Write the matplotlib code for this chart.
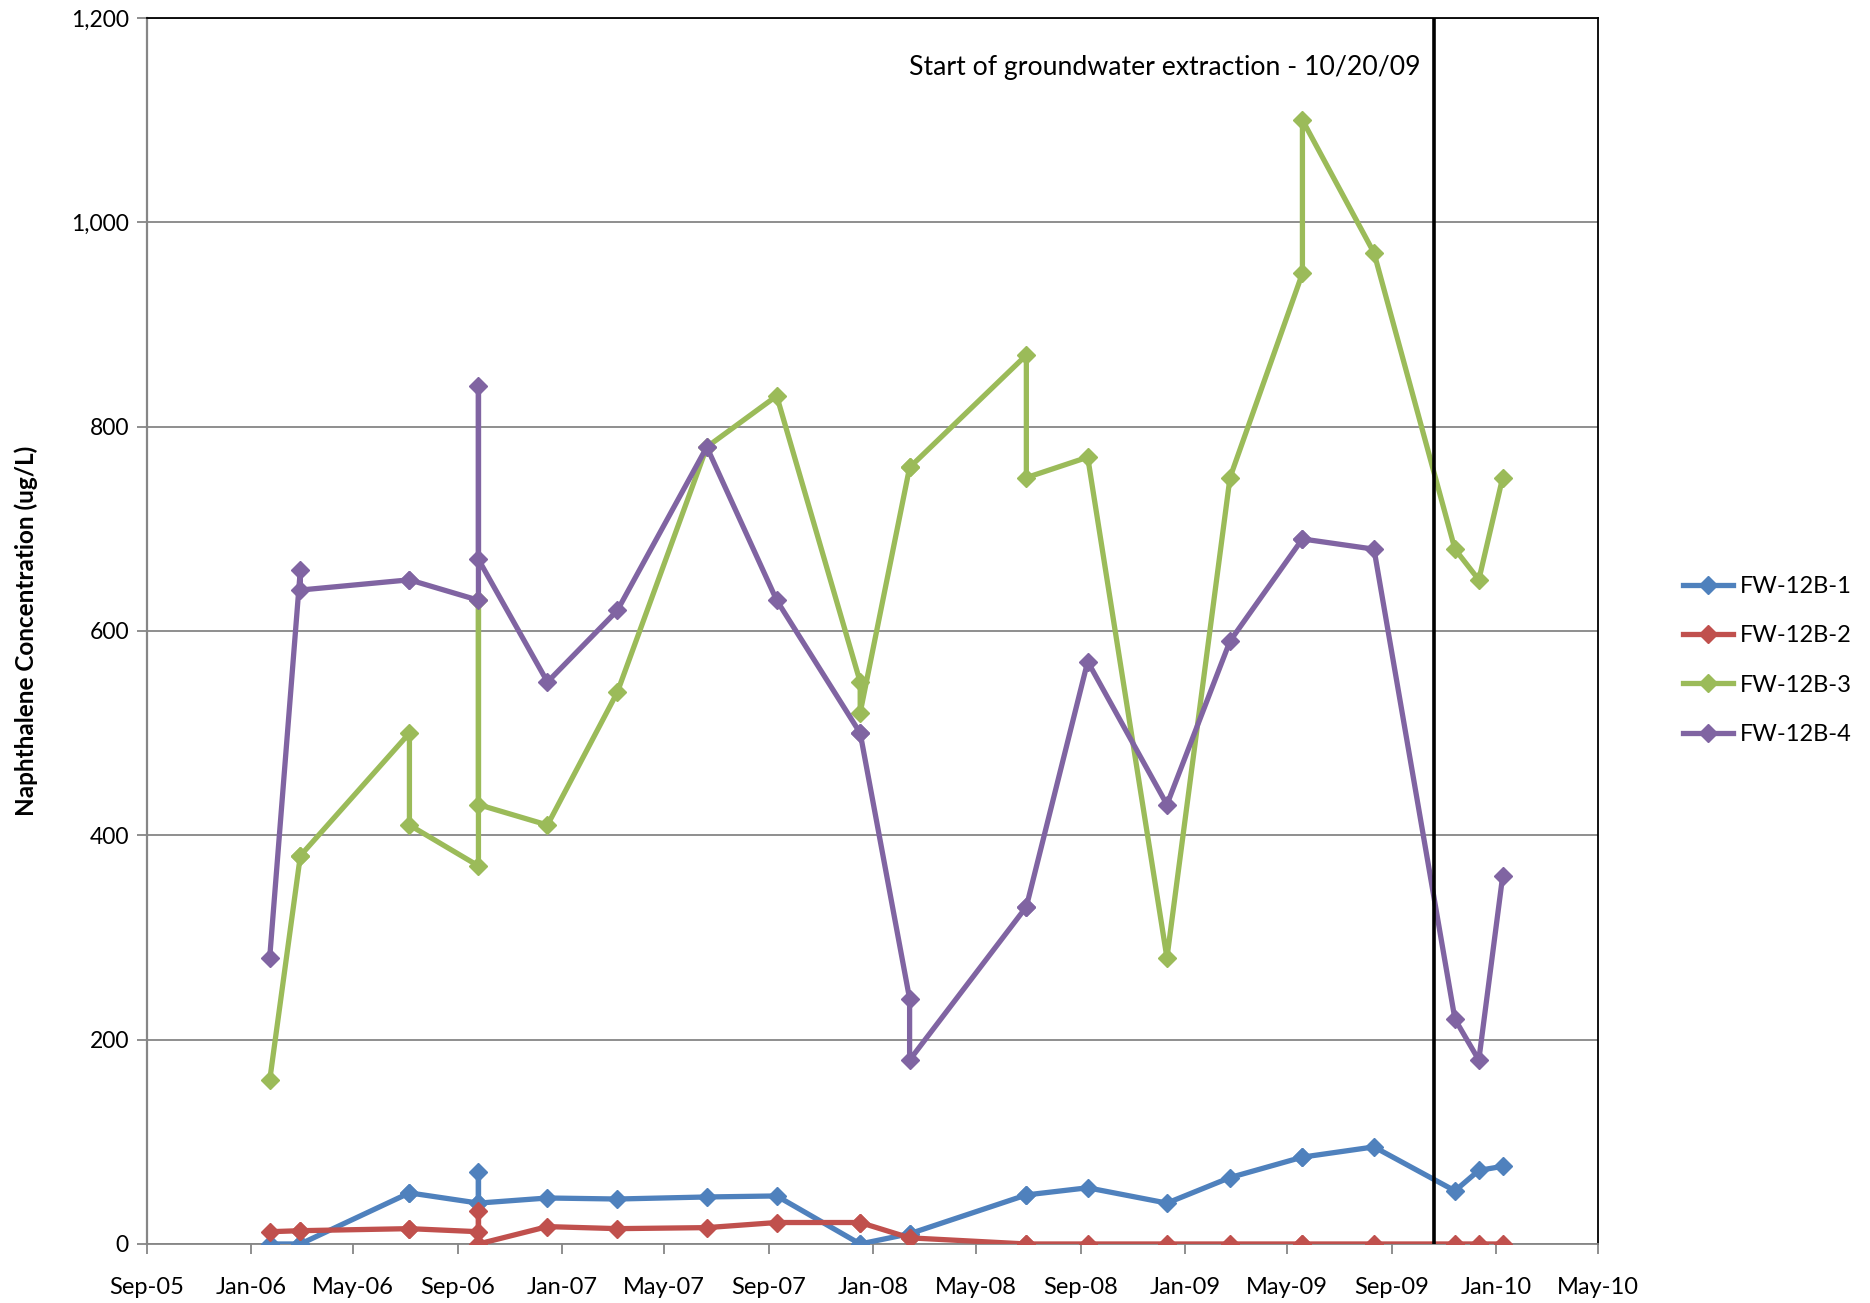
import matplotlib
matplotlib.use('Agg')
import matplotlib.pyplot as plt
import matplotlib.dates as mdates
import numpy as np
import datetime as dt

plt.rcParams['font.family'] = ['Lato', 'DejaVu Sans']

# Sampling dates (repeat dates = several samples on the same day)
dates = ['2006-01-23', '2006-02-28', '2006-02-28', '2006-07-06', '2006-07-06',
         '2006-09-25', '2006-09-25', '2006-09-25', '2006-12-15', '2007-03-07',
         '2007-06-20', '2007-09-10', '2007-12-17', '2007-12-17', '2008-02-13',
         '2008-02-13', '2008-06-29', '2008-06-29', '2008-09-09', '2008-12-11',
         '2009-02-23', '2009-05-19', '2009-05-19', '2009-08-11', '2009-11-14',
         '2009-12-12', '2010-01-09']

fw1 = [0, 0, 0, 50, 50, 40, 70, 40, 45, 44, 46, 47, 0, 0, 10, 10, 48, 48,
       55, 40, 65, 85, 85, 95, 52, 72, 76]
fw2 = [12, 13, 13, 15, 15, 12, 32, 0, 17, 15, 16, 21, 21, 21, 6, 6, 0, 0,
       0, 0, 0, 0, 0, 0, 0, 0, 0]
fw3 = [160, 380, 380, 500, 410, 370, 630, 430, 410, 540, 780, 830, 550, 520,
       760, 760, 870, 750, 770, 280, 750, 950, 1100, 970, 680, 650, 750]
fw4 = [280, 660, 640, 650, 650, 630, 840, 670, 550, 620, 780, 630, 500, 500,
       240, 180, 330, 330, 570, 430, 590, 690, 690, 680, 220, 180, 360]

series_names = ['FW-12B-1', 'FW-12B-2', 'FW-12B-3', 'FW-12B-4']
colors = ['#4F81BD', '#C0504D', '#9BBB59', '#8064A2']

extraction_start = dt.datetime(2009, 10, 20)

x = [dt.datetime.strptime(d, '%Y-%m-%d') for d in dates]

fig = plt.figure(figsize=(18.7, 13.03), dpi=100)
ax = fig.add_axes([0.0786, 0.0453, 0.7760, 0.9410])

for vals, name, c in zip([fw1, fw2, fw3, fw4], series_names, colors):
    ax.plot(x, vals, '-', color=c, lw=3.8, marker='D', markersize=9.5,
            label=name, solid_joinstyle='round', zorder=3)

ax.axvline(extraction_start, color='black', lw=2.6, zorder=4)
ax.text(extraction_start - dt.timedelta(days=16), 1151,
        'Start of groundwater extraction - 10/20/09',
        ha='right', va='center', fontsize=19.2)

ax.set_xlim(dt.datetime(2005, 9, 1), dt.datetime(2010, 5, 1))
ax.set_ylim(0, 1200)
ax.xaxis.set_major_locator(mdates.MonthLocator(bymonth=[1, 5, 9]))
ax.xaxis.set_major_formatter(mdates.DateFormatter('%b-%y'))
ax.set_yticks(np.arange(0, 1201, 200))
ax.yaxis.set_major_formatter(plt.FuncFormatter(lambda v, p: f'{int(v):,}'))

ax.grid(axis='y', color='#868686', lw=1.3, zorder=0)
ax.set_axisbelow(True)
ax.spines['left'].set_color('#868686')
ax.spines['left'].set_linewidth(1.6)
ax.spines['bottom'].set_color('#868686')
ax.spines['bottom'].set_linewidth(1.3)
ax.spines['top'].set_color('black')
ax.spines['top'].set_linewidth(1.3)
ax.spines['right'].set_color('black')
ax.spines['right'].set_linewidth(1.3)
ax.tick_params(axis='both', direction='out', length=7, width=1.3,
               color='#868686', labelsize=16.5, pad=6)
ax.tick_params(axis='x', labelsize=17, pad=17)

ax.set_ylabel('Naphthalene Concentration (ug/L)', fontsize=17.5,
              fontweight='bold', labelpad=24)

ax.legend(loc='center left', bbox_to_anchor=(1.052, 0.476), frameon=False,
          fontsize=17, handlelength=2.1, labelspacing=1.2, handletextpad=0.3,
          borderaxespad=0.0)

fig.savefig('out.png', dpi=100)
